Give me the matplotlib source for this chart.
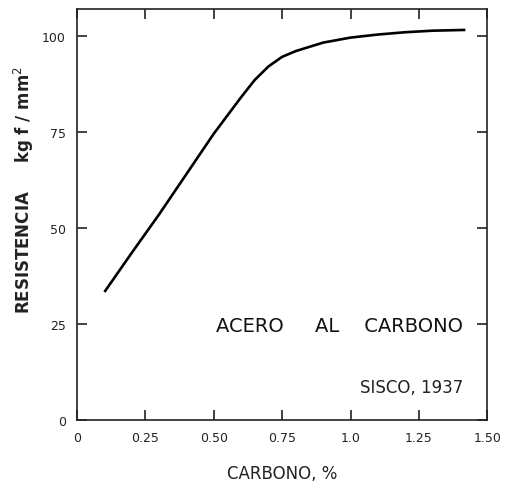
import matplotlib
matplotlib.use("Agg")
import matplotlib.pyplot as plt

# Datos (carbono %, resistencia kgf/mm2)
carbono = [0.10, 0.20, 0.30, 0.40, 0.50, 0.60, 0.65, 0.70, 0.75, 0.80,
           0.90, 1.00, 1.10, 1.20, 1.30, 1.42]
resistencia = [33.3, 43.5, 53.5, 64.0, 74.5, 84.0, 88.5, 92.0, 94.5, 96.0,
               98.2, 99.5, 100.3, 100.9, 101.3, 101.5]

xticks = [0, 0.25, 0.50, 0.75, 1.0, 1.25, 1.50]
xticklabels = ["0", "0.25", "0.50", "0.75", "1.0", "1.25", "1.50"]
yticks = [0, 25, 50, 75, 100]
yticklabels = ["0", "25", "50", "75", "100"]

plt.rcParams["font.family"] = "DejaVu Sans"
fig = plt.figure(figsize=(5.07, 4.89), dpi=100)
ax = fig.add_axes([0.152, 0.139, 0.809, 0.841])

ax.plot(carbono, resistencia, color="black", linewidth=1.9, solid_capstyle="butt")

ax.set_xlim(0, 1.5)
ax.set_ylim(0, 107)
ax.set_xticks(xticks)
ax.set_xticklabels(xticklabels, fontsize=9, color="#222222")
ax.set_yticks(yticks)
ax.set_yticklabels(yticklabels, fontsize=9, color="#222222")
ax.tick_params(direction="in", length=7, width=1.2, top=True, right=True,
               pad=8, color="#222222")
for s in ax.spines.values():
    s.set_linewidth(1.2)
    s.set_color("#222222")

ax.set_xlabel("CARBONO, %", fontsize=12, labelpad=14, color="#222222")
fig.text(0.047, 0.611, "RESISTENCIA     kg f / mm$^2$", rotation=90,
         ha="center", va="center", fontsize=12, fontweight="bold", color="#222222")

ax.text(1.41, 24.5, "ACERO     AL    CARBONO", ha="right", va="center",
        fontsize=14, color="#111111")
ax.text(1.414, 8.6, "SISCO, 1937", ha="right", va="center",
        fontsize=12, color="#222222")

fig.savefig("out.png", dpi=100)
